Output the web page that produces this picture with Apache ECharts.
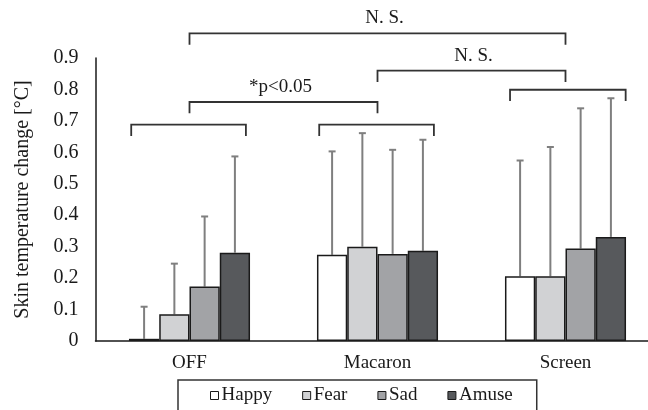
<!DOCTYPE html>
<html>
<head>
<meta charset="utf-8">
<script src="https://cdn.jsdelivr.net/npm/echarts@6/dist/echarts.min.js"></script>
<style>
  html, body { margin: 0; padding: 0; background: #fff; }
  #chart { width: 648px; height: 410px; }
</style>
</head>
<body>
<div id="chart"></div>
<script>
// Conditions on the category axis, emotions as the bar series
const categories = ['OFF', 'Macaron', 'Screen'];
const emotions = ['Happy', 'Fear', 'Sad', 'Amuse'];

// Mean skin temperature change [°C]
const happy = [0.007, 0.274, 0.206];
const fear  = [0.085, 0.300, 0.206];
const sad   = [0.173, 0.277, 0.294];
const amuse = [0.281, 0.287, 0.331];

// Standard deviations (upper error bars)
const happySD = [0.102, 0.329, 0.368];
const fearSD  = [0.161, 0.361, 0.411];
const sadSD   = [0.223, 0.331, 0.446];
const amuseSD = [0.306, 0.353, 0.441];

// Y-axis range
const yMin = 0;
const yMax = 0.9;
const yStep = 0.1;

// Significance brackets: ends as [category, offset in bands], height, leg length, label
const brackets = [
  { from: [0, -0.31], to: [0, 0.30],  top: 0.688, leg: 0.036, label: '' },
  { from: [1, -0.31], to: [1, 0.30],  top: 0.688, leg: 0.036, label: '' },
  { from: [2, -0.295], to: [2, 0.32], top: 0.799, leg: 0.036, label: '' },
  { from: [0, 0], to: [1, 0], top: 0.760, leg: 0.036, label: '*p<0.05', dx: -3 },
  { from: [1, 0], to: [2, 0], top: 0.860, leg: 0.036, label: 'N. S.', dx: 2 },
  { from: [0, 0], to: [2, 0], top: 0.978, leg: 0.036, label: 'N. S.', dx: 7 }
];

const means = [happy, fear, sad, amuse];
const sds = [happySD, fearSD, sadSD, amuseSD];
const fills = ['#ffffff', '#d1d2d4', '#a2a3a6', '#57595c'];

const FONT = "'Liberation Serif', 'Times New Roman', serif";
const CAT_GAP = 0.356;

const barSeries = emotions.map((name, i) => ({
  name: name,
  type: 'bar',
  data: means[i],
  barGap: '0%',
  barCategoryGap: (CAT_GAP * 100) + '%',
  itemStyle: { color: fills[i], borderColor: '#1a1a1a', borderWidth: 1.5 },
  z: 2
}));

// Error bar items: [category, emotion index, upper end, mean]
const errData = [];
emotions.forEach((name, s) => {
  categories.forEach((c, k) => {
    errData.push([k, s, means[s][k] + sds[s][k], means[s][k]]);
  });
});

const errSeries = {
  type: 'custom',
  name: 'sd',
  data: errData,
  z: 1,
  clip: false,
  encode: { x: 0, y: 2 },
  renderItem: function (params, api) {
    const k = api.value(0);
    const s = api.value(1);
    const band = api.size([1, 0])[0];
    const bw = band * (1 - CAT_GAP) / emotions.length;
    const center = api.coord([k, 0])[0];
    const x = center + (s - (emotions.length - 1) / 2) * bw;
    const yTop = api.coord([k, api.value(2)])[1];
    const yBase = api.coord([k, api.value(3)])[1];
    const st = { stroke: '#7f7f7f', lineWidth: 2 };
    return {
      type: 'group',
      children: [
        { type: 'line', shape: { x1: x, y1: yBase, x2: x, y2: yTop }, style: st },
        { type: 'line', shape: { x1: x - 3.5, y1: yTop, x2: x + 3.5, y2: yTop }, style: st }
      ]
    };
  }
};

const bracketSeries = {
  type: 'custom',
  name: 'brackets',
  data: brackets.map((b, i) => [i, b.top]),
  clip: false,
  silent: true,
  z: 3,
  encode: { x: 0, y: 1 },
  renderItem: function (params, api) {
    const b = brackets[params.dataIndex];
    const band = api.size([1, 0])[0];
    const x1 = api.coord([b.from[0], 0])[0] + b.from[1] * band;
    const x2 = api.coord([b.to[0], 0])[0] + b.to[1] * band;
    const yT = api.coord([0, b.top])[1];
    const yL = api.coord([0, b.top - b.leg])[1];
    const children = [{
      type: 'polyline',
      shape: { points: [[x1, yL], [x1, yT], [x2, yT], [x2, yL]] },
      style: { stroke: '#333333', lineWidth: 1.8, fill: null }
    }];
    if (b.label) {
      children.push({
        type: 'text',
        style: {
          x: (x1 + x2) / 2 + (b.dx || 0), y: yT - 15,
          text: b.label, font: '19px ' + FONT, fill: '#1a1a1a',
          textAlign: 'center', textVerticalAlign: 'middle'
        }
      });
    }
    return { type: 'group', children: children };
  }
};

const chart = echarts.init(document.getElementById('chart'), null, { renderer: 'canvas' });
chart.setOption({
  animation: false,
  backgroundColor: '#ffffff',
  textStyle: { fontFamily: FONT },
  // plot band runs past the right edge of the canvas
  grid: {
    left: 95.5, width: 564, top: 58, height: 283,
    containLabel: false, outerBoundsMode: 'none'
  },
  legend: {
    data: emotions,
    left: 178,
    top: 380,
    orient: 'horizontal',
    icon: 'rect',
    itemWidth: 8,
    itemHeight: 8,
    itemGap: 30,
    padding: [6, 24, 40, 32],
    borderColor: '#333333',
    borderWidth: 1.5,
    itemStyle: { borderColor: '#1a1a1a', borderWidth: 1 },
    textStyle: { fontFamily: FONT, fontSize: 19, color: '#1a1a1a', padding: [0, 0, 0, -2] }
  },
  xAxis: {
    type: 'category',
    data: categories,
    axisLine: { lineStyle: { color: '#1a1a1a', width: 1.5 } },
    axisTick: { show: false },
    axisLabel: { fontFamily: FONT, fontSize: 19, color: '#1a1a1a', margin: 13 }
  },
  yAxis: {
    type: 'value',
    min: yMin,
    max: yMax,
    interval: yStep,
    name: 'Skin temperature change [°C]',
    nameLocation: 'middle',
    nameGap: 63,
    nameTextStyle: { fontFamily: FONT, fontSize: 20, color: '#1a1a1a' },
    axisLine: { show: true, lineStyle: { color: '#1a1a1a', width: 1.5 } },
    axisTick: { show: false },
    splitLine: { show: false },
    axisLabel: { fontFamily: FONT, fontSize: 20, color: '#1a1a1a', margin: 17 }
  },
  series: barSeries.concat([errSeries, bracketSeries])
});
</script>
</body>
</html>
